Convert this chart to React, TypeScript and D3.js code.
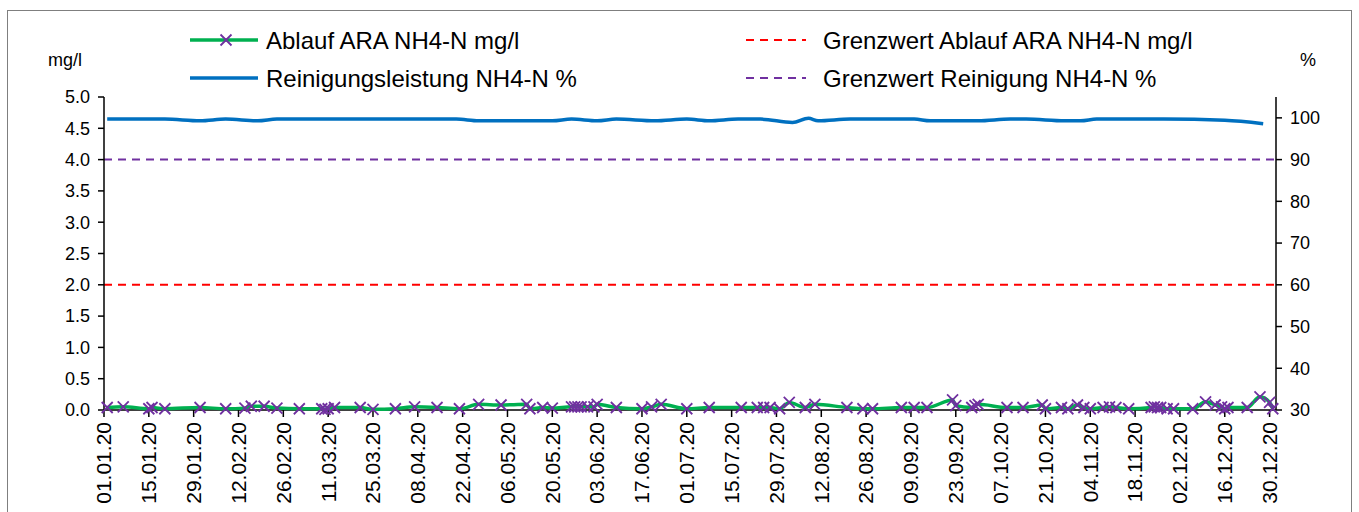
import React from "react";
import * as d3 from "d3";

// Ablauf ARA NH4-N (mg/l), sample dates and values
const ablaufDates = [
  "02.01.20", "07.01.20", "15.01.20", "16.01.20", "20.01.20", "31.01.20", "08.02.20", "14.02.20",
  "16.02.20", "20.02.20", "24.02.20", "02.03.20", "09.03.20", "10.03.20", "11.03.20", "13.03.20",
  "21.03.20", "25.03.20", "01.04.20", "07.04.20", "14.04.20", "21.04.20", "27.04.20", "04.05.20",
  "12.05.20", "13.05.20", "17.05.20", "20.05.20", "26.05.20", "27.05.20", "28.05.20", "29.05.20",
  "31.05.20", "02.06.20", "03.06.20", "09.06.20", "17.06.20", "20.06.20", "23.06.20", "01.07.20",
  "08.07.20", "18.07.20", "23.07.20", "25.07.20", "27.07.20", "30.07.20", "02.08.20", "07.08.20",
  "10.08.20", "20.08.20", "25.08.20", "28.08.20", "06.09.20", "10.09.20", "14.09.20", "22.09.20",
  "23.09.20", "28.09.20", "29.09.20", "30.09.20", "09.10.20", "14.10.20", "20.10.20", "21.10.20",
  "26.10.20", "28.10.20", "31.10.20", "02.11.20", "04.11.20", "08.11.20", "10.11.20", "12.11.20",
  "16.11.20", "23.11.20", "24.11.20", "25.11.20", "26.11.20", "28.11.20", "30.11.20", "06.12.20",
  "10.12.20", "13.12.20", "15.12.20", "16.12.20", "17.12.20", "23.12.20", "27.12.20", "30.12.20",
  "31.12.20",
];
const ablaufValues = [
  0.04, 0.05, 0.02, 0.04, 0.02, 0.04, 0.02, 0.03,
  0.06, 0.06, 0.03, 0.02, 0.02, 0.01, 0.02, 0.04,
  0.04, 0.01, 0.02, 0.05, 0.04, 0.02, 0.09, 0.08,
  0.09, 0.02, 0.04, 0.03, 0.05, 0.05, 0.05, 0.05,
  0.05, 0.05, 0.09, 0.04, 0.02, 0.05, 0.09, 0.02,
  0.04, 0.04, 0.04, 0.04, 0.04, 0.02, 0.12, 0.04,
  0.09, 0.04, 0.02, 0.02, 0.04, 0.04, 0.04, 0.16,
  0.07, 0.04, 0.07, 0.09, 0.04, 0.04, 0.08, 0.02,
  0.04, 0.02, 0.08, 0.04, 0.02, 0.04, 0.05, 0.04,
  0.02, 0.04, 0.05, 0.04, 0.04, 0.02, 0.02, 0.02,
  0.13, 0.08, 0.05, 0.02, 0.04, 0.04, 0.21, 0.12,
  0.02,
];

// Reinigungsleistung NH4-N (%)
const leistungDates = [
  "02.01.20", "20.01.20", "31.01.20", "08.02.20", "18.02.20", "24.02.20", "20.04.20", "27.04.20",
  "20.05.20", "26.05.20", "03.06.20", "09.06.20", "21.06.20", "01.07.20", "08.07.20", "17.07.20",
  "24.07.20", "03.08.20", "08.08.20", "11.08.20", "21.08.20", "10.09.20", "15.09.20", "30.09.20",
  "10.10.20", "15.10.20", "27.10.20", "01.11.20", "06.11.20", "27.11.20", "16.12.20", "28.12.20",
];
const leistungValues = [
  99.7, 99.7, 99.3, 99.7, 99.3, 99.7, 99.7, 99.3,
  99.3, 99.7, 99.3, 99.7, 99.3, 99.7, 99.3, 99.7,
  99.7, 98.9, 99.9, 99.3, 99.7, 99.7, 99.3, 99.3,
  99.7, 99.7, 99.3, 99.3, 99.7, 99.7, 99.4, 98.6,
];

const grenzwertAblauf = 2.0;
const grenzwertReinigung = 90;

const xTickLabels = [
  "01.01.20", "15.01.20", "29.01.20", "12.02.20", "26.02.20", "11.03.20", "25.03.20",
  "08.04.20", "22.04.20", "06.05.20", "20.05.20", "03.06.20", "17.06.20", "01.07.20",
  "15.07.20", "29.07.20", "12.08.20", "26.08.20", "09.09.20", "23.09.20", "07.10.20",
  "21.10.20", "04.11.20", "18.11.20", "02.12.20", "16.12.20", "30.12.20",
];
const leftTicks = [0, 0.5, 1, 1.5, 2, 2.5, 3, 3.5, 4, 4.5, 5];
const rightTicks = [30, 40, 50, 60, 70, 80, 90, 100];

const parse = d3.timeParse("%d.%m.%y");
const FONT = "'Liberation Sans', Arial, sans-serif";

export default function App() {
  const left = 104, right = 1276, top = 97, bottom = 410;

  const x = d3.scaleTime()
    .domain([parse("01.01.20") as Date, parse("01.01.21") as Date])
    .range([left, right]);
  const yL = d3.scaleLinear().domain([0, 5]).range([bottom, top]);
  const yR = d3.scaleLinear().domain([30, 105]).range([bottom, top]);

  const ablauf = ablaufDates.map((d, i) => ({ date: parse(d) as Date, v: ablaufValues[i] }));
  const leistung = leistungDates.map((d, i) => ({ date: parse(d) as Date, v: leistungValues[i] }));

  const ablaufLine = d3.line<{ date: Date; v: number }>()
    .x((d) => x(d.date))
    .y((d) => yL(d.v))
    .curve(d3.curveMonotoneX);
  const leistungLine = d3.line<{ date: Date; v: number }>()
    .x((d) => x(d.date))
    .y((d) => yR(d.v))
    .curve(d3.curveMonotoneX);

  const cross = (cx: number, cy: number, s: number) =>
    `M${cx - s},${cy - s}L${cx + s},${cy + s}M${cx - s},${cy + s}L${cx + s},${cy - s}`;

  return (
    <svg width={1359} height={512} style={{ position: "absolute", left: 0, top: 0, background: "#fff" }}
      fontFamily={FONT}>
      <rect x={7.5} y={10.5} width={1344} height={600} fill="#fff" stroke="#7f7f7f" strokeWidth={1} />

      {/* legend */}
      <g fontSize={24} fill="#000">
        <line x1={190} x2={258} y1={40} y2={40} stroke="#00b050" strokeWidth={3.5} />
        <path d={cross(226, 40, 5.5)} stroke="#7030a0" strokeWidth={1.8} />
        <text x={266} y={48.5}>Ablauf ARA NH4-N mg/l</text>
        <line x1={190} x2={258} y1={78} y2={78} stroke="#0070c0" strokeWidth={3.5} />
        <text x={266} y={86.5}>Reinigungsleistung NH4-N %</text>
        <line x1={746} x2={806} y1={40} y2={40} stroke="#ff0000" strokeWidth={2} strokeDasharray="8,6" />
        <text x={823} y={48.5}>Grenzwert Ablauf ARA NH4-N mg/l</text>
        <line x1={746} x2={806} y1={78} y2={78} stroke="#7030a0" strokeWidth={2} strokeDasharray="8,6" />
        <text x={823} y={86.5}>Grenzwert Reinigung NH4-N %</text>
      </g>

      <text x={65} y={66} fontSize={18} textAnchor="middle">mg/l</text>
      <text x={1308} y={66} fontSize={18} textAnchor="middle">%</text>

      {/* limit lines */}
      <line x1={left} x2={right} y1={yL(grenzwertAblauf)} y2={yL(grenzwertAblauf)}
        stroke="#ff0000" strokeWidth={2} strokeDasharray="8,6" />
      <line x1={left} x2={right} y1={yR(grenzwertReinigung)} y2={yR(grenzwertReinigung)}
        stroke="#7030a0" strokeWidth={2} strokeDasharray="8,6" />

      {/* axes */}
      <g stroke="#000" strokeWidth={1.5}>
        <line x1={left} x2={left} y1={top} y2={bottom} />
        <line x1={right} x2={right} y1={top} y2={bottom} />
        <line x1={left} x2={right} y1={bottom} y2={bottom} />
        {leftTicks.map((t) => (
          <line key={"l" + t} x1={left - 6} x2={left} y1={yL(t)} y2={yL(t)} />
        ))}
        {rightTicks.map((t) => (
          <line key={"r" + t} x1={right} x2={right + 6} y1={yR(t)} y2={yR(t)} />
        ))}
        {xTickLabels.map((t) => (
          <line key={"x" + t} x1={x(parse(t) as Date)} x2={x(parse(t) as Date)} y1={bottom} y2={bottom + 7} />
        ))}
      </g>
      <g fontSize={18}>
        {leftTicks.map((t) => (
          <text key={"lt" + t} x={left - 14} y={yL(t)} dy="0.35em" textAnchor="end">{t.toFixed(1)}</text>
        ))}
        {rightTicks.map((t) => (
          <text key={"rt" + t} x={right + 14} y={yR(t)} dy="0.35em">{t}</text>
        ))}
      </g>
      <g fontSize={21}>
        {xTickLabels.map((t) => {
          const px = x(parse(t) as Date);
          return (
            <text key={"xt" + t} transform={`translate(${px},${bottom + 12}) rotate(-90)`}
              textAnchor="end" dy="0.35em">{t}</text>
          );
        })}
      </g>

      {/* series */}
      <path d={ablaufLine(ablauf) ?? ""} fill="none" stroke="#00b050" strokeWidth={3.5} />
      <g stroke="#7030a0" strokeWidth={1.8}>
        {ablauf.map((d, i) => (
          <path key={i} d={cross(x(d.date), yL(d.v), 5.5)} />
        ))}
      </g>
      <path d={leistungLine(leistung) ?? ""} fill="none" stroke="#0070c0" strokeWidth={3.5} />
    </svg>
  );
}
